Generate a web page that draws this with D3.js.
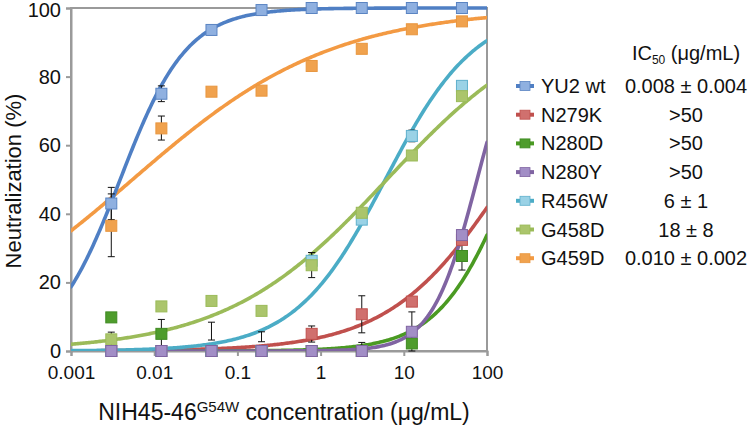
<!DOCTYPE html>
<html><head><meta charset="utf-8">
<script src="https://cdn.jsdelivr.net/npm/d3@7"></script>
<style>body{margin:0;background:#fff}svg{display:block;font-family:"Liberation Sans",Arial,sans-serif}</style>
</head><body><svg id="c" width="749" height="431"></svg>
<script>
// ---------- data ----------
const concentrations = [0.00305, 0.0122, 0.0488, 0.195, 0.781, 3.125, 12.5, 50];
const seriesNames = ["YU2 wt", "N279K", "N280D", "N280Y", "R456W", "G458D", "G459D"];
const ic50Labels = ["0.008 ± 0.004", ">50", ">50", ">50", "6 ± 1", "18 ± 8", "0.010 ± 0.002"];
const valuesYU2 = [43, 75, 93.6, 99.4, 100, 100, 100, 100];
const valuesN279K = [0, 0, 0, 0, 5, 10.7, 14.4, 32.4];
const valuesN280D = [9.8, 5, 0, 0, 0, 0, 2.2, 27.7];
const valuesN280Y = [0, 0, 0, 0, 0, 0, 5.6, 33.8];
const valuesR456W = [0, 0, 0, 0, 26.3, 38.3, 62.7, 77.3];
const valuesG458D = [3.4, 13, 14.6, 11.7, 25, 40.3, 57, 74.3];
const valuesG459D = [36.5, 64.9, 75.6, 75.9, 83.1, 88.1, 93.8, 96.1];
// error bars [low, high] per point (null = none visible)
const errYU2 = [[38.3, 47.7], [72.7, 77.3], null, null, null, null, null, null];
const errN279K = [null, null, [3.2, 8.4], [2.7, 5.6], [2.6, 7.3], [5.3, 16.1], null, null];
const errN280D = [null, [0.8, 9.2], null, null, null, null, null, [23.6, 31.8]];
const errN280Y = [null, null, null, null, null, [0, 2.5], [0, 11.4], null];
const errR456W = [null, null, null, null, [23.8, 28.7], [37.5, 39.5], [61, 64.4], null];
const errG458D = [[1.2, 5.5], null, null, null, [21.4, 28.7], null, null, null];
const errG459D = [[27.5, 45.8], [61.5, 68.5], null, null, null, null, null, null];
// fitted dose-response (Hill) parameters
const fitIC50 = [0.0039, 170, 196, 76, 6, 6.27, 0.0055];
const fitSlope = [1.08, 0.62, 1.0, 1.6, 0.8, 0.447, 0.362];
const xTicks = [0.001, 0.01, 0.1, 1, 10, 100];
const xTickLabels = ["0.001", "0.01", "0.1", "1", "10", "100"];
const yTicks = [0, 20, 40, 60, 80, 100];

const lineColors = ["#4f7fc4", "#c0504d", "#4a9a22", "#8064a2", "#4bacc6", "#9bbb59", "#f39a43"];
const markerColors = ["#8fb0e0", "#d0706e", "#4e9c2c", "#a28ec6", "#9ad2e6", "#abc56c", "#f0a24e"];
const markerStroke = ["#5a84c2", "#c0504d", "#3f8a22", "#8064a2", "#5fb0cc", "#9bbb59", "#e8963f"];

const values = [valuesYU2, valuesN279K, valuesN280D, valuesN280Y, valuesR456W, valuesG458D, valuesG459D];
const errs = [errYU2, errN279K, errN280D, errN280Y, errR456W, errG458D, errG459D];

// ---------- layout ----------
const svg = d3.select("#c");
const L = 71, R = 487, T = 8, B = 351;
const x = d3.scaleLog().domain([0.001, 100]).range([L, R]);
const y = d3.scaleLinear().domain([0, 100]).range([B, T]);
const axisCol = "#9a9a9a";

// frame
svg.append("rect").attr("x", L).attr("y", T).attr("width", R - L).attr("height", B - T)
  .attr("fill", "none").attr("stroke", axisCol).attr("stroke-width", 2);

// axes
const yAxis = svg.append("g").attr("transform", `translate(${L},0)`)
  .call(d3.axisLeft(y).tickValues(yTicks).tickSize(5).tickPadding(5));
const xAxis = svg.append("g").attr("transform", `translate(0,${B})`)
  .call(d3.axisBottom(x).tickValues(xTicks).tickFormat((d, i) => xTickLabels[i]).tickSize(5).tickPadding(10));
[yAxis, xAxis].forEach(g => {
  g.select(".domain").attr("stroke", axisCol).attr("stroke-width", 2);
  g.selectAll(".tick line").attr("stroke", axisCol).attr("stroke-width", 2);
  g.selectAll(".tick text").attr("fill", "#111").attr("font-size", 19).attr("font-family", "Liberation Sans, Arial, sans-serif");
});
yAxis.selectAll(".tick text").attr("font-size", 20);
yAxis.selectAll(".tick").filter(d => d === 100).select("text").attr("dy", "0.42em");

// clip
svg.append("clipPath").attr("id", "pc").append("rect")
  .attr("x", L).attr("y", T - 2).attr("width", R - L).attr("height", B - T + 2);

// curves
const samples = d3.range(0, 301).map(i => Math.pow(10, -3 + 5 * i / 300));
const line = d3.line().x(d => x(d[0])).y(d => y(d[1])).curve(d3.curveLinear);
const curveOrder = [1, 2, 3, 4, 5, 6, 0];
const cg = svg.append("g").attr("clip-path", "url(#pc)");
curveOrder.forEach(s => {
  const pts = samples.map(c => [c, 100 * Math.pow(c, fitSlope[s]) / (Math.pow(fitIC50[s], fitSlope[s]) + Math.pow(c, fitSlope[s]))]);
  cg.append("path").attr("d", line(pts)).attr("fill", "none")
    .attr("stroke", lineColors[s]).attr("stroke-width", 3.6).attr("stroke-linecap", "round");
});

// error bars
const eg = svg.append("g");
errs.forEach((arr, s) => arr.forEach((e, i) => {
  if (!e) return;
  const cx = x(concentrations[i]);
  eg.append("line").attr("x1", cx).attr("x2", cx).attr("y1", y(e[0])).attr("y2", y(e[1]))
    .attr("stroke", "#111").attr("stroke-width", 1);
  [e[0], e[1]].forEach(v => eg.append("line").attr("x1", cx - 3.5).attr("x2", cx + 3.5)
    .attr("y1", y(v)).attr("y2", y(v)).attr("stroke", "#111").attr("stroke-width", 1));
}));

// markers
const ms = 11;
const markerOrder = [1, 2, 4, 5, 6, 0, 3];
const mg = svg.append("g");
markerOrder.forEach(s => {
  mg.selectAll(null).data(values[s]).enter().append("rect")
    .attr("x", (d, i) => x(concentrations[i]) - ms / 2)
    .attr("y", d => y(d) - ms / 2)
    .attr("width", ms).attr("height", ms)
    .attr("fill", markerColors[s]).attr("stroke", markerStroke[s]).attr("stroke-width", 1);
});

// axis titles
svg.append("text").attr("transform", "translate(21,181) rotate(-90)").attr("text-anchor", "middle")
  .attr("font-size", 22).attr("fill", "#111").text("Neutralization (%)");
const xt = svg.append("text").attr("x", 284).attr("y", 420).attr("text-anchor", "middle")
  .attr("font-size", 23).attr("fill", "#111");
xt.append("tspan").text("NIH45-46");
xt.append("tspan").attr("font-size", 15).attr("dy", -8).text("G54W");
xt.append("tspan").attr("dy", 8).text(" concentration (μg/mL)");

// legend
const lgTop = 86, lgStep = 28.7;
const hdr = svg.append("text").attr("x", 686).attr("y", lgTop - 26).attr("text-anchor", "middle")
  .attr("font-size", 20).attr("fill", "#111");
hdr.append("tspan").text("IC");
hdr.append("tspan").attr("font-size", 12).attr("dy", 4).text("50");
hdr.append("tspan").attr("dy", -4).text(" (μg/mL)");
seriesNames.forEach((n, s) => {
  const cy = lgTop + s * lgStep;
  svg.append("line").attr("x1", 516).attr("x2", 534).attr("y1", cy).attr("y2", cy)
    .attr("stroke", lineColors[s]).attr("stroke-width", 4);
  svg.append("rect").attr("x", 520).attr("y", cy - 4.5).attr("width", 10).attr("height", 9)
    .attr("fill", markerColors[s]).attr("stroke", markerStroke[s]).attr("stroke-width", 0.8);
  svg.append("text").attr("x", 541).attr("y", cy + 7).attr("font-size", 20).attr("fill", "#111").text(n);
  svg.append("text").attr("x", 686).attr("y", cy + 7).attr("text-anchor", "middle")
    .attr("font-size", 20).attr("fill", "#111").text(ic50Labels[s]);
});
</script></body></html>
